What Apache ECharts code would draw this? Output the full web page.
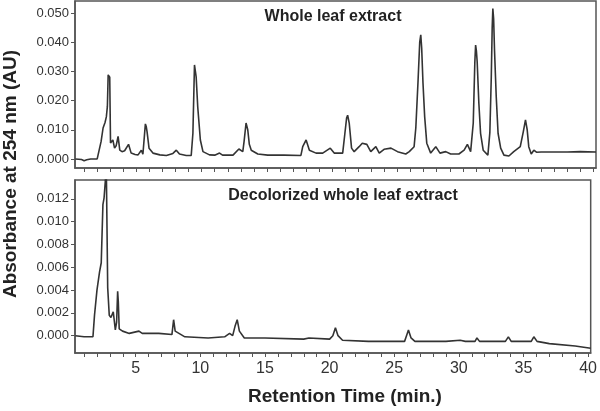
<!DOCTYPE html>
<html>
<head>
<meta charset="utf-8">
<script src="https://cdn.jsdelivr.net/npm/echarts@6/dist/echarts.min.js"></script>
<style>html,body{margin:0;padding:0;background:#fff}#c{width:600px;height:411px}</style>
</head>
<body>
<div id="c"></div>
<script>
// Whole leaf extract (top panel): retention time (min) and absorbance (AU)
var topTime = [0.33,0.8,1.0,1.2,1.5,2.0,2.15,2.3,2.45,2.6,
  2.7,2.78,2.84,2.9,2.96,3.02,3.08,3.2,3.33,3.45,
  3.6,3.73,3.9,4.1,4.4,4.6,4.9,5.13,5.38,5.5,
  5.6,5.69,5.76,5.82,5.97,6.27,6.8,7.3,7.8,8.06,
  8.3,8.82,9.2,9.33,9.45,9.52,9.58,9.7,9.9,10.1,
  10.6,11.0,11.37,11.6,12.4,12.85,13.15,13.25,13.4,13.53,
  13.65,13.8,14.3,15.06,16.3,17.6,17.74,18.0,18.25,18.76,
  19.27,19.85,20.15,20.8,20.97,21.1,21.18,21.3,21.48,21.68,
  22.06,22.3,22.65,22.95,23.34,23.6,23.97,24.5,25.0,25.63,
  25.9,26.27,26.4,26.57,26.7,26.78,26.85,26.95,27.08,27.24,
  27.54,27.93,28.25,28.69,29.07,29.7,30.1,30.35,30.6,30.8,
  30.92,30.98,31.04,31.1,31.23,31.36,31.56,31.92,32.07,32.18,
  32.25,32.3,32.36,32.43,32.56,32.7,32.9,33.15,33.53,33.9,
  34.4,34.63,34.8,34.93,35.05,35.24,35.44,35.64,36.0,38.0,
  39.0,40.2];
var topAbs = [0.0000,-0.0002,-0.0006,-0.0003,0.0000,0.0000,0.0002,0.0060,0.0106,0.0125,
  0.0144,0.0180,0.0288,0.0285,0.0280,0.0055,0.0050,0.0065,0.0037,0.0045,
  0.0077,0.0030,0.0025,0.0028,0.0050,0.0020,0.0015,0.0014,0.0030,0.0016,
  0.0020,0.0120,0.0110,0.0093,0.0037,0.0020,0.0014,0.0012,0.0019,0.0030,
  0.0017,0.0012,0.0012,0.0088,0.0322,0.0300,0.0280,0.0178,0.0065,0.0025,
  0.0014,0.0013,0.0020,0.0013,0.0013,0.0034,0.0025,0.0060,0.0123,0.0100,
  0.0050,0.0030,0.0017,0.0013,0.0013,0.0012,0.0042,0.0065,0.0030,0.0020,
  0.0020,0.0037,0.0020,0.0020,0.0088,0.0140,0.0150,0.0123,0.0037,0.0025,
  0.0042,0.0054,0.0050,0.0025,0.0042,0.0020,0.0033,0.0037,0.0025,0.0017,
  0.0025,0.0042,0.0106,0.0265,0.0400,0.0425,0.0380,0.0260,0.0144,0.0054,
  0.0020,0.0042,0.0020,0.0025,0.0017,0.0017,0.0030,0.0050,0.0025,0.0123,
  0.0330,0.0390,0.0370,0.0333,0.0190,0.0088,0.0030,0.0013,0.0090,0.0280,
  0.0450,0.0515,0.0480,0.0370,0.0213,0.0088,0.0037,0.0013,0.0010,0.0025,
  0.0042,0.0093,0.0134,0.0100,0.0042,0.0017,0.0030,0.0023,0.0024,0.0024,
  0.0025,0.0024];

// Decolorized whole leaf extract (bottom panel)
var botTime = [0.33,1.0,1.69,1.81,2.0,2.2,2.33,2.46,2.55,2.65,
  2.72,2.78,2.83,2.95,3.08,3.26,3.42,3.52,3.6,3.65,
  3.72,3.98,4.5,5.25,5.5,6.78,7.8,7.93,8.05,8.8,
  10.6,11.88,12.26,12.5,12.7,12.85,13.02,13.4,15.0,18.0,
  18.4,20.0,20.25,20.45,20.65,21.0,23.0,25.8,25.95,26.1,
  26.3,26.6,29.0,30.1,30.5,31.25,31.4,31.6,33.6,33.83,
  34.05,35.6,35.8,36.05,37.0,39.0,40.2];
var botAbs = [0.0000,-0.0001,-0.0001,0.0018,0.0040,0.0056,0.0064,0.0115,0.0121,0.0136,
  0.0150,0.0150,0.0042,0.0018,0.0016,0.0021,0.0005,0.0012,0.0039,0.0030,
  0.0006,0.0004,0.0002,0.0004,0.0002,0.0002,0.0001,0.0014,0.0004,-0.0001,
  -0.0002,-0.0001,0.0002,0.0000,0.0009,0.0014,0.0004,-0.0002,-0.0002,-0.0003,
  -0.0002,-0.0003,0.0000,0.0007,0.0000,-0.0004,-0.0005,-0.0005,0.0000,0.0005,
  -0.0002,-0.0005,-0.0005,-0.0004,-0.0005,-0.0005,-0.0002,-0.0005,-0.0005,-0.0001,
  -0.0005,-0.0005,-0.0001,-0.0005,-0.0007,-0.0009,-0.0011];

var xTicks = [];
for (var i = 1; i <= 40; i++) xTicks.push(i);
var xLabels = [5,10,15,20,25,30,35,40];
var topYTicks = [0,0.01,0.02,0.03,0.04,0.05];
var botYTicks = [0,0.002,0.004,0.006,0.008,0.010,0.012];

function pairs(t, v){ return t.map(function(x,i){ return [x, v[i]]; }); }

var FONT = 'Liberation Sans, Arial, sans-serif';
var axisCol = '#555';

function xAx(gi, showLabels){
  return {
    type:'value', gridIndex:gi, min:0.3, max:40.2,
    axisLine:{show:true, onZero:false, lineStyle:{color:axisCol, width:1.5}},
    axisTick:{show:true, inside:false, length:4, customValues:xTicks, lineStyle:{color:axisCol, width:1}},
    axisLabel:{show:showLabels, customValues:xLabels, fontFamily:FONT, fontSize:16, color:'#333', margin:8,
      formatter:function(v){ return String(Math.round(v)); }},
    splitLine:{show:false}
  };
}
function yAx(gi, mn, mx, ticks){
  return {
    type:'value', gridIndex:gi, min:mn, max:mx,
    axisLine:{show:true, onZero:false, lineStyle:{color:axisCol, width:1.5}},
    axisTick:{show:true, inside:false, length:4, customValues:ticks, lineStyle:{color:axisCol, width:1}},
    axisLabel:{customValues:ticks, fontFamily:FONT, fontSize:13, color:'#333', margin:6,
      formatter:function(v){ return v.toFixed(3); }},
    splitLine:{show:false}
  };
}

var chart = echarts.init(document.getElementById('c'), null, {renderer:'canvas'});
chart.setOption({
  animation:false,
  backgroundColor:'#fff',
  grid:[
    {left:75, top:1, width:521, height:167, show:true, borderColor:axisCol, borderWidth:1.5},
    {left:75, top:180, width:521, height:173, show:true, borderColor:axisCol, borderWidth:1.5}
  ],
  xAxis:[xAx(0,false), xAx(1,true)],
  yAxis:[yAx(0,-0.0031,0.0541,topYTicks), yAx(1,-0.00152,0.01366,botYTicks)],
  series:[
    {type:'line', xAxisIndex:0, yAxisIndex:0, data:pairs(topTime, topAbs), symbol:'none',
      lineStyle:{color:'#333', width:1.6}, clip:true},
    {type:'line', xAxisIndex:1, yAxisIndex:1, data:pairs(botTime, botAbs), symbol:'none',
      lineStyle:{color:'#333', width:1.6}, clip:true}
  ],
  graphic:[
    {type:'text', x:333, y:17, style:{text:'Whole leaf extract', font:'bold 16px '+FONT, fill:'#222', align:'center', verticalAlign:'middle'}},
    {type:'text', x:343, y:196, style:{text:'Decolorized whole leaf extract', font:'bold 16px '+FONT, fill:'#222', align:'center', verticalAlign:'middle'}},
    {type:'text', x:345, y:397, style:{text:'Retention Time (min.)', font:'bold 19px '+FONT, fill:'#222', align:'center', verticalAlign:'middle'}},
    {type:'text', x:11, y:174, rotation:Math.PI/2, style:{text:'Absorbance at 254 nm (AU)', font:'bold 19px '+FONT, fill:'#222', align:'center', verticalAlign:'middle'}}
  ]
});
</script>
</body>
</html>
